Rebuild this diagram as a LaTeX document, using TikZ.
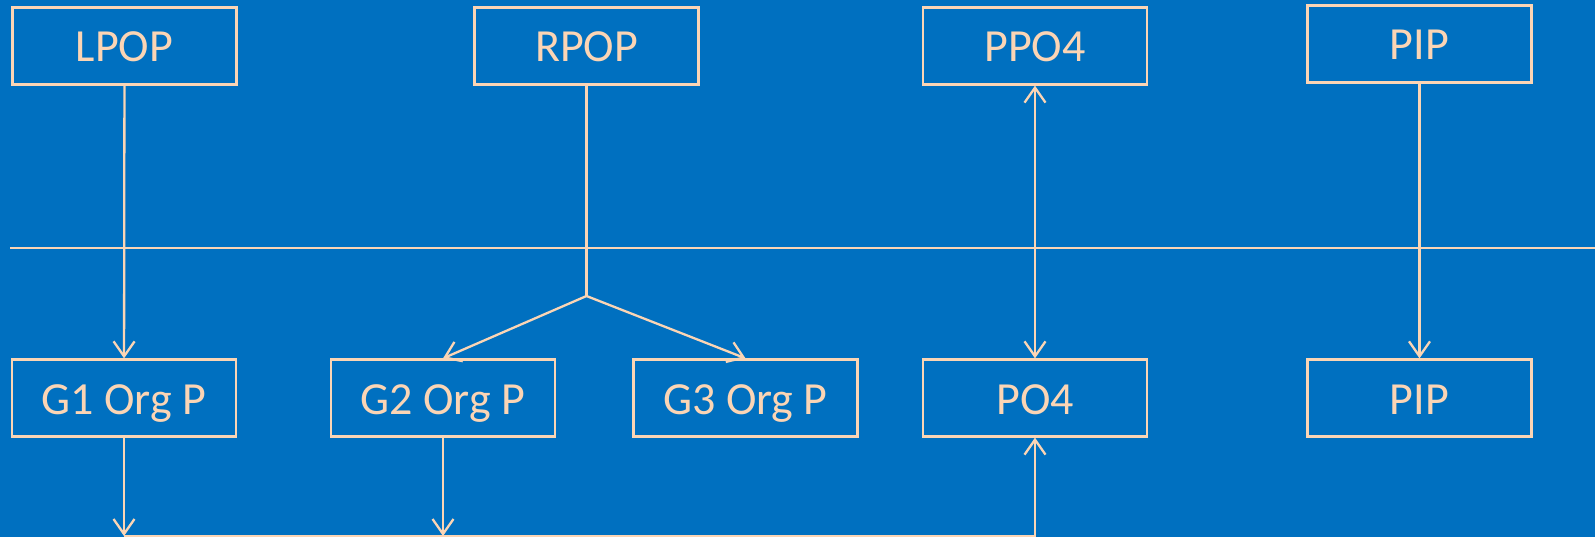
\documentclass[tikz,border=0pt]{standalone}
\usepackage{fontspec}
\setmainfont{Carlito}
\usepackage{tikz}
\usetikzlibrary{arrows.meta}
\definecolor{slide-blue}{HTML}{0070C0}
\definecolor{peach}{HTML}{FBD5B5}
\tikzset{
    pool-box/.style = {draw=peach, line width=2.3pt, rectangle, minimum width=224pt, minimum height=77pt, inner sep=0pt, text height=32pt, text depth=0pt, text=peach, font=\fontsize{46}{56}\selectfont},
    flow/.style = {draw=peach, line width=2.3pt},
    flow-arrow/.style = {flow, -{Straight Barb[length=15pt, width=21pt, line width=2.3pt]}},
}

\begin{document}
\begin{tikzpicture}[x=1pt, y=-1pt]
\fill[slide-blue] (0,0) rectangle (1595,537);
\useasboundingbox (0,0) rectangle (1595,537);
% top row
\node[pool-box] (lpop) at (124.5,46) {LPOP};
\node[pool-box] (rpop) at (586.5,46) {RPOP};
\node[pool-box] (ppo4) at (1035,46) {PPO4};
\node[pool-box] (pip-top) at (1419.5,44) {PIP};
% bottom row
\node[pool-box] (g1) at (124,398) {G1 Org P};
\node[pool-box] (g2) at (443,398) {G2 Org P};
\node[pool-box] (g3) at (745.5,398) {G3 Org P};
\node[pool-box] (po4) at (1035,398) {PO4};
\node[pool-box] (pip-bot) at (1419.5,398) {PIP};
% dividing line
\coordinate (div-l) at (10,248);
\coordinate (div-r) at (1595,248);
\draw[flow] (div-l) -- (div-r);
% links
\coordinate (split) at (586.5,296);
\coordinate (g1-end) at (124,536);
\coordinate (g2-end) at (443,536);
\coordinate (po4-end) at (1035,536);
\draw[flow-arrow] (lpop) -- (g1);
\draw[flow] (rpop) -- (split);
\draw[flow-arrow] (split) -- (g2.north);
\draw[flow-arrow] (split) -- (g3.north);
\draw[flow-arrow, {Straight Barb[length=15pt, width=21pt, line width=2.3pt]}-{Straight Barb[length=15pt, width=21pt, line width=2.3pt]}] (ppo4) -- (po4);
\draw[flow-arrow] (pip-top) -- (pip-bot);
\draw[flow-arrow] (g1) -- (g1-end);
\draw[flow-arrow] (g2) -- (g2-end);
\draw[flow-arrow] (g1-end) -- (po4-end) -- (po4);
\end{tikzpicture}
\end{document}
